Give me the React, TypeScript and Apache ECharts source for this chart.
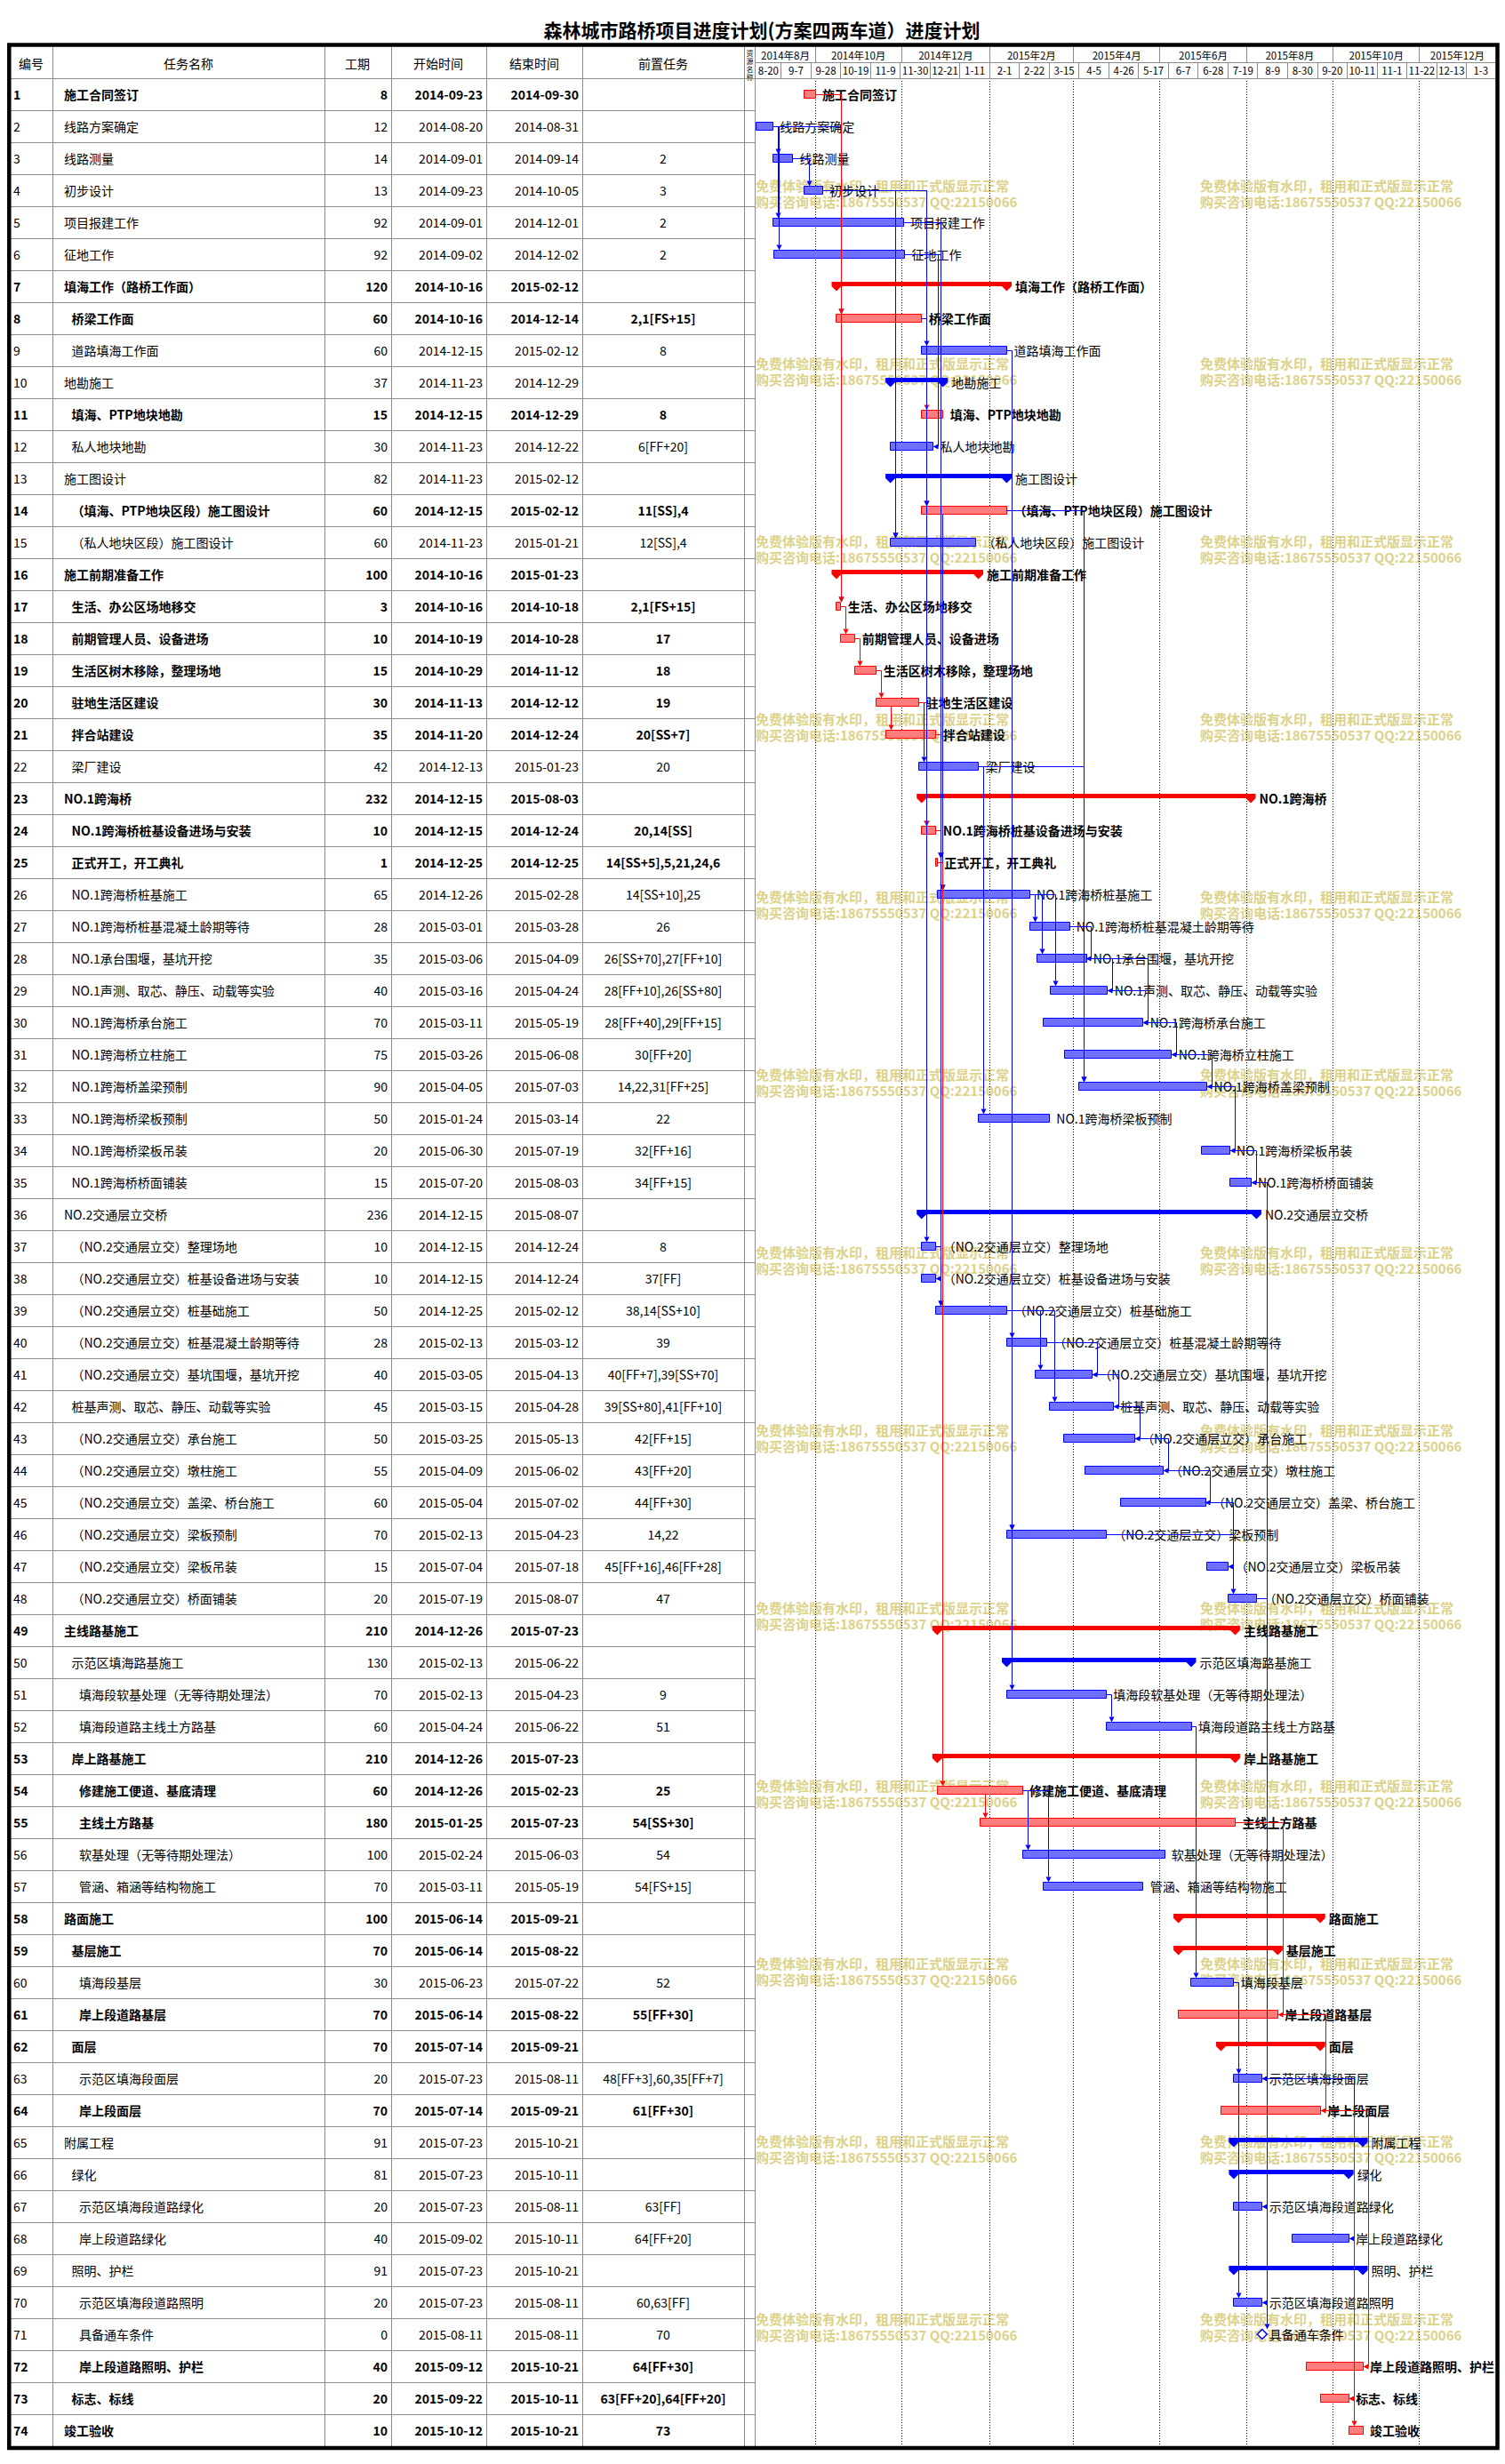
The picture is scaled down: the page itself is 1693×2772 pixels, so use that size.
import React, { useEffect, useRef } from "react";
import * as echarts from "echarts";

// ---------------- data ----------------
const TITLE = "森林城市路桥项目进度计划(方案四两车道）进度计划";
const COLUMN_HEADERS = ["编号", "任务名称", "工期", "开始时间", "结束时间", "前置任务"];
const RESOURCE_HEADER = "资\n源\n名\n称";
const WATERMARK_LINES = ["免费体验版有水印，租用和正式版显示正常", "购买咨询电话:18675550537 QQ:22150066"];

const taskNames = [
  "施工合同签订", "线路方案确定", "线路测量", "初步设计", "项目报建工作", "征地工作",
  "填海工作（路桥工作面）", "桥梁工作面", "道路填海工作面", "地勘施工", "填海、PTP地块地勘", "私人地块地勘",
  "施工图设计", "（填海、PTP地块区段）施工图设计", "（私人地块区段）施工图设计", "施工前期准备工作",
  "生活、办公区场地移交", "前期管理人员、设备进场", "生活区树木移除，整理场地", "驻地生活区建设", "拌合站建设", "梁厂建设",
  "NO.1跨海桥", "NO.1跨海桥桩基设备进场与安装", "正式开工，开工典礼", "NO.1跨海桥桩基施工", "NO.1跨海桥桩基混凝土龄期等待",
  "NO.1承台围堰，基坑开挖", "NO.1声测、取芯、静压、动载等实验", "NO.1跨海桥承台施工", "NO.1跨海桥立柱施工",
  "NO.1跨海桥盖梁预制", "NO.1跨海桥梁板预制", "NO.1跨海桥梁板吊装", "NO.1跨海桥桥面铺装", "NO.2交通层立交桥",
  "（NO.2交通层立交）整理场地", "（NO.2交通层立交）桩基设备进场与安装", "（NO.2交通层立交）桩基础施工",
  "（NO.2交通层立交）桩基混凝土龄期等待", "（NO.2交通层立交）基坑围堰，基坑开挖", "桩基声测、取芯、静压、动载等实验",
  "（NO.2交通层立交）承台施工", "（NO.2交通层立交）墩柱施工", "（NO.2交通层立交）盖梁、桥台施工",
  "（NO.2交通层立交）梁板预制", "（NO.2交通层立交）梁板吊装", "（NO.2交通层立交）桥面铺装",
  "主线路基施工", "示范区填海路基施工", "填海段软基处理（无等待期处理法）", "填海段道路主线土方路基", "岸上路基施工",
  "修建施工便道、基底清理", "主线土方路基", "软基处理（无等待期处理法）", "管涵、箱涵等结构物施工", "路面施工", "基层施工",
  "填海段基层", "岸上段道路基层", "面层", "示范区填海段面层", "岸上段面层", "附属工程", "绿化", "示范区填海段道路绿化",
  "岸上段道路绿化", "照明、护栏", "示范区填海段道路照明", "具备通车条件", "岸上段道路照明、护栏", "标志、标线", "竣工验收",
];

const taskLevels = [
  1, 1, 1, 1, 1, 1, 1, 2, 2, 1, 2, 2, 1, 2, 2, 1, 2, 2, 2, 2, 2, 2, 1, 2, 2, 2, 2, 2, 2, 2, 2, 2, 2, 2, 2, 1,
  2, 2, 2, 2, 2, 2, 2, 2, 2, 2, 2, 2, 1, 2, 3, 3, 2, 3, 3, 3, 3, 1, 2, 3, 3, 2, 3, 3, 1, 2, 3, 3, 2, 3, 3, 3, 2, 1,
];

// C = critical task, N = normal task, SR = critical summary, SB = summary, M = milestone
const taskKinds = [
  "C", "N", "N", "N", "N", "N", "SR", "C", "N", "SB", "C", "N", "SB", "C", "N", "SR", "C", "C", "C", "C", "C", "N",
  "SR", "C", "C", "N", "N", "N", "N", "N", "N", "N", "N", "N", "N", "SB", "N", "N", "N", "N", "N", "N", "N", "N",
  "N", "N", "N", "N", "SR", "SB", "N", "N", "SR", "C", "C", "N", "N", "SR", "SR", "N", "C", "SR", "N", "C", "SB",
  "SB", "N", "N", "SB", "N", "M", "C", "C", "C",
];

const durations = [
  8, 12, 14, 13, 92, 92, 120, 60, 60, 37, 15, 30, 82, 60, 60, 100, 3, 10, 15, 30, 35, 42, 232, 10, 1, 65, 28, 35,
  40, 70, 75, 90, 50, 20, 15, 236, 10, 10, 50, 28, 40, 45, 50, 55, 60, 70, 15, 20, 210, 130, 70, 60, 210, 60, 180,
  100, 70, 100, 70, 30, 70, 70, 20, 70, 91, 81, 20, 40, 91, 20, 0, 40, 20, 10,
];

const startDates = [
  "2014-09-23", "2014-08-20", "2014-09-01", "2014-09-23", "2014-09-01", "2014-09-02", "2014-10-16", "2014-10-16",
  "2014-12-15", "2014-11-23", "2014-12-15", "2014-11-23", "2014-11-23", "2014-12-15", "2014-11-23", "2014-10-16",
  "2014-10-16", "2014-10-19", "2014-10-29", "2014-11-13", "2014-11-20", "2014-12-13", "2014-12-15", "2014-12-15",
  "2014-12-25", "2014-12-26", "2015-03-01", "2015-03-06", "2015-03-16", "2015-03-11", "2015-03-26", "2015-04-05",
  "2015-01-24", "2015-06-30", "2015-07-20", "2014-12-15", "2014-12-15", "2014-12-15", "2014-12-25", "2015-02-13",
  "2015-03-05", "2015-03-15", "2015-03-25", "2015-04-09", "2015-05-04", "2015-02-13", "2015-07-04", "2015-07-19",
  "2014-12-26", "2015-02-13", "2015-02-13", "2015-04-24", "2014-12-26", "2014-12-26", "2015-01-25", "2015-02-24",
  "2015-03-11", "2015-06-14", "2015-06-14", "2015-06-23", "2015-06-14", "2015-07-14", "2015-07-23", "2015-07-14",
  "2015-07-23", "2015-07-23", "2015-07-23", "2015-09-02", "2015-07-23", "2015-07-23", "2015-08-11", "2015-09-12",
  "2015-09-22", "2015-10-12",
];

const endDates = [
  "2014-09-30", "2014-08-31", "2014-09-14", "2014-10-05", "2014-12-01", "2014-12-02", "2015-02-12", "2014-12-14",
  "2015-02-12", "2014-12-29", "2014-12-29", "2014-12-22", "2015-02-12", "2015-02-12", "2015-01-21", "2015-01-23",
  "2014-10-18", "2014-10-28", "2014-11-12", "2014-12-12", "2014-12-24", "2015-01-23", "2015-08-03", "2014-12-24",
  "2014-12-25", "2015-02-28", "2015-03-28", "2015-04-09", "2015-04-24", "2015-05-19", "2015-06-08", "2015-07-03",
  "2015-03-14", "2015-07-19", "2015-08-03", "2015-08-07", "2014-12-24", "2014-12-24", "2015-02-12", "2015-03-12",
  "2015-04-13", "2015-04-28", "2015-05-13", "2015-06-02", "2015-07-02", "2015-04-23", "2015-07-18", "2015-08-07",
  "2015-07-23", "2015-06-22", "2015-04-23", "2015-06-22", "2015-07-23", "2015-02-23", "2015-07-23", "2015-06-03",
  "2015-05-19", "2015-09-21", "2015-08-22", "2015-07-22", "2015-08-22", "2015-09-21", "2015-08-11", "2015-09-21",
  "2015-10-21", "2015-10-11", "2015-08-11", "2015-10-11", "2015-10-21", "2015-08-11", "2015-08-11", "2015-10-21",
  "2015-10-11", "2015-10-21",
];

const predecessors = [
  "", "", "2", "3", "2", "2", "", "2,1[FS+15]", "8", "", "8", "6[FF+20]", "", "11[SS],4", "12[SS],4", "",
  "2,1[FS+15]", "17", "18", "19", "20[SS+7]", "20", "", "20,14[SS]", "14[SS+5],5,21,24,6", "14[SS+10],25", "26",
  "26[SS+70],27[FF+10]", "28[FF+10],26[SS+80]", "28[FF+40],29[FF+15]", "30[FF+20]", "14,22,31[FF+25]", "22",
  "32[FF+16]", "34[FF+15]", "", "8", "37[FF]", "38,14[SS+10]", "39", "40[FF+7],39[SS+70]", "39[SS+80],41[FF+10]",
  "42[FF+15]", "43[FF+20]", "44[FF+30]", "14,22", "45[FF+16],46[FF+28]", "47", "", "", "9", "51", "", "25",
  "54[SS+30]", "54", "54[FS+15]", "", "", "52", "55[FF+30]", "", "48[FF+3],60,35[FF+7]", "61[FF+30]", "", "",
  "63[FF]", "64[FF+20]", "", "60,63[FF]", "70", "64[FF+30]", "63[FF+20],64[FF+20]", "73",
];

const monthGroupStarts = [
  "2014-08-01", "2014-10-01", "2014-12-01", "2015-02-01", "2015-04-01", "2015-06-01", "2015-08-01", "2015-10-01", "2015-12-01",
];
const tickDates = [
  "2014-08-20", "2014-09-07", "2014-09-28", "2014-10-19", "2014-11-09", "2014-11-30", "2014-12-21", "2015-01-11",
  "2015-02-01", "2015-02-22", "2015-03-15", "2015-04-05", "2015-04-26", "2015-05-17", "2015-06-07", "2015-06-28",
  "2015-07-19", "2015-08-09", "2015-08-30", "2015-09-20", "2015-10-11", "2015-11-01", "2015-11-22", "2015-12-13",
  "2016-01-03",
];

// ---------------- layout / style ----------------
const PAGE_W = 1693;
const PAGE_H = 2772;
const FONT = '"Noto Sans CJK SC", "Noto Sans", sans-serif';
const HEAD_TOP = 53;
const HEAD_MID = 70.5;
const ROW_TOP = 88;
const ROW_H = 36;
const N_ROWS = taskNames.length;
const ROWS_BOTTOM = ROW_TOP + ROW_H * N_ROWS;
const TABLE_L = 12;
const COL_LINES = [59.5, 365.5, 440.5, 547.5, 655.5, 837.5, 849.5];
const CHART_L = 850;
const CHART_R = 1682;
const PX_PER_DAY = 1.596;
const NUM_X = 15;
const NAME_X = 72;
const INDENT = 8.5;
const DUR_X = 436;
const START_X = 543;
const END_X = 651;
const PRED_X = 746;
const BAR_HALF = 4.5;
const LINK_OFF = 6;
const ARROW = 6;
const BLUE = "#0000FF";
const RED = "#FF0000";
const BLUE_FILL = "#7070FF";
const RED_FILL = "#FF7D7D";
const GRID_LINE = "#8C8C8C";
const WM_COLOR = "#DCD28A";

const toUTC = (s: string) => {
  const [y, m, d] = s.split("-").map(Number);
  return Date.UTC(y, m - 1, d);
};
const ORIGIN = Math.min(...startDates.map(toUTC));
const dayOf = (s: string) => (toUTC(s) - ORIGIN) / 86400000;
const DAY_MAX = (CHART_R - CHART_L) / PX_PER_DAY;
const isRed = (i: number) => taskKinds[i] === "C" || taskKinds[i] === "SR";
const crisp = (v: number) => Math.round(v - 0.5) + 0.5;

function txt(text: string, x: number, y: number, font: string, align: string, vAlign = "middle", fill = "#000") {
  return {
    type: "text",
    style: { text, x, y, font, fill, align, verticalAlign: vAlign, textAlign: align, textVerticalAlign: vAlign },
  };
}
function seg(x1: number, y1: number, x2: number, y2: number, stroke = GRID_LINE, lineWidth = 1, lineDash?: number[]) {
  return {
    type: "line",
    shape: { x1, y1, x2, y2 },
    style: { stroke, lineWidth, lineDash },
  };
}

function buildOption() {
  const rowCats = taskNames.map((_, i) => String(i + 1));
  const barData = taskNames.map((_, i) => [i, dayOf(startDates[i]), dayOf(endDates[i]) + 1]);

  const linkData: number[][] = [];
  predecessors.forEach((str, s) => {
    if (!str) return;
    str.split(",").forEach((tok) => {
      const m = tok.trim().match(/^(\d+)(?:\[(FS|SS|FF|SF)([+-]\d+)?\])?$/);
      if (!m) return;
      const p = Number(m[1]) - 1;
      const t = ["FS", "SS", "FF", "SF"].indexOf(m[2] || "FS");
      linkData.push([p, s, t, barData[p][1], barData[p][2], barData[s][1], barData[s][2]]);
    });
  });

  const monthData = monthGroupStarts.map((d, k) => {
    const a = Math.max(0, dayOf(d));
    const b = k + 1 < monthGroupStarts.length ? dayOf(monthGroupStarts[k + 1]) : DAY_MAX;
    return [a, Math.min(b, DAY_MAX), k];
  });
  const tickData = tickDates.map((d, k) => {
    const a = Math.max(0, dayOf(d));
    const b = k + 1 < tickDates.length ? dayOf(tickDates[k + 1]) : DAY_MAX;
    return [a, Math.min(b, DAY_MAX), k];
  });

  const tableSeries = {
    type: "custom",
    xAxisIndex: 0,
    yAxisIndex: 0,
    z: 3,
    data: taskNames.map((_, i) => [0, i]),
    renderItem: (params: any, api: any) => {
      const i = api.value(1);
      const yc = api.coord([0, i])[1];
      const font = `${isRed(i) ? "bold " : ""}14px ${FONT}`;
      const yb = crisp(yc + ROW_H / 2);
      const children: any[] = [
        txt(String(i + 1), NUM_X, yc, font, "left"),
        txt(taskNames[i], NAME_X + (taskLevels[i] - 1) * INDENT, yc, font, "left"),
        txt(String(durations[i]), DUR_X, yc, font, "right"),
        txt(startDates[i], START_X, yc, font, "right"),
        txt(endDates[i], END_X, yc, font, "right"),
        txt(predecessors[i], PRED_X, yc, font, "center"),
      ];
      if (i < N_ROWS - 1) children.push(seg(TABLE_L, yb, CHART_L, yb));
      COL_LINES.forEach((x) => children.push(seg(x, yc - ROW_H / 2, x, yc + ROW_H / 2)));
      return { type: "group", children };
    },
  };

  const monthSeries = {
    type: "custom",
    xAxisIndex: 1,
    yAxisIndex: 1,
    z: 1,
    data: monthData,
    renderItem: (params: any, api: any) => {
      const k = api.value(2);
      const x0 = api.coord([api.value(0), 0])[0];
      const x1 = api.coord([api.value(1), 0])[0];
      const [y, m] = monthGroupStarts[k].split("-").map(Number);
      const children: any[] = [txt(`${y}年${m}月`, (x0 + x1) / 2, (HEAD_TOP + HEAD_MID) / 2, `11.5px ${FONT}`, "center")];
      if (k > 0) {
        children.push(seg(crisp(x0), HEAD_TOP, crisp(x0), HEAD_MID));
        children.push(seg(crisp(x0), ROW_TOP, crisp(x0), ROWS_BOTTOM, "#000", 1, [1, 2]));
      }
      return { type: "group", children };
    },
  };

  const tickSeries = {
    type: "custom",
    xAxisIndex: 1,
    yAxisIndex: 1,
    z: 1,
    data: tickData,
    renderItem: (params: any, api: any) => {
      const k = api.value(2);
      const x0 = api.coord([api.value(0), 0])[0];
      const x1 = api.coord([api.value(1), 0])[0];
      const [, m, d] = tickDates[k].split("-").map(Number);
      const children: any[] = [txt(`${m}-${d}`, (x0 + x1) / 2, (HEAD_MID + ROW_TOP) / 2, `11.5px ${FONT}`, "center")];
      if (k > 0) children.push(seg(crisp(x0), HEAD_MID, crisp(x0), ROW_TOP));
      return { type: "group", children };
    },
  };

  const barSeries = {
    type: "custom",
    xAxisIndex: 1,
    yAxisIndex: 1,
    z: 4,
    data: barData,
    renderItem: (params: any, api: any) => {
      const i = api.value(0);
      const [xs, yc] = api.coord([api.value(1), i]);
      const xe = api.coord([api.value(2), i])[0];
      const k = taskKinds[i];
      const red = isRed(i);
      const col = red ? RED : BLUE;
      const children: any[] = [];
      let labelX = xe + 8;
      if (k === "SR" || k === "SB") {
        const h = 5.5;
        children.push({
          type: "polygon",
          shape: {
            points: [
              [xs - h, yc - 5], [xe + h, yc - 5], [xe + h, yc], [xe, yc + h], [xe - h, yc],
              [xs + h, yc], [xs, yc + h], [xs - h, yc],
            ],
          },
          style: { fill: col },
        });
        labelX = xe + h + 4;
      } else if (k === "M") {
        const h = 5.5;
        children.push({
          type: "polygon",
          shape: { points: [[xe, yc - h], [xe + h, yc], [xe, yc + h], [xe - h, yc]] },
          style: { fill: "#fff", stroke: BLUE, lineWidth: 1.5 },
        });
        labelX = xe + 8;
      } else {
        const x0 = crisp(xs);
        children.push({
          type: "rect",
          shape: { x: x0, y: crisp(yc - BAR_HALF), width: Math.max(Math.round(xe - xs), 2), height: BAR_HALF * 2 },
          style: { fill: red ? RED_FILL : BLUE_FILL, stroke: col, lineWidth: 1 },
        });
      }
      children.push(txt(taskNames[i], labelX, yc, `${red ? "bold " : ""}14px ${FONT}`, "left"));
      return { type: "group", children };
    },
  };

  const linkSeries = {
    type: "custom",
    xAxisIndex: 1,
    yAxisIndex: 1,
    z: 5,
    data: linkData,
    renderItem: (params: any, api: any) => {
      const p = api.value(0);
      const s = api.value(1);
      const t = api.value(2);
      const [pxs, yP0] = api.coord([api.value(3), p]);
      const pxe = crisp(api.coord([api.value(4), p])[0]);
      let sxs = api.coord([api.value(5), s])[0];
      const [sxe0, yS0] = api.coord([api.value(6), s]);
      const sxe = crisp(sxe0);
      const yP = crisp(yP0);
      const yS = crisp(yS0);
      const color = isRed(p) && isRed(s) ? RED : BLUE;
      const milestone = taskKinds[s] === "M";
      if (milestone) sxs = sxe0;
      let pts: number[][];
      let arrow: number[][];
      if (t === 2) {
        const X = crisp(Math.max(pxe, sxe) + LINK_OFF);
        pts = [[pxe, yP], [X, yP], [X, yS], [sxe + ARROW, yS]];
        arrow = [[sxe, yS], [sxe + ARROW, yS - ARROW / 2], [sxe + ARROW, yS + ARROW / 2]];
      } else {
        const X = crisp(sxs + LINK_OFF);
        const tipY = yS0 - (milestone ? 5.5 : BAR_HALF);
        const inside = X <= pxe && X >= pxs;
        pts = inside ? [[X, yP0 + BAR_HALF], [X, tipY - ARROW]] : [[pxe, yP], [X, yP], [X, tipY - ARROW]];
        arrow = [[X, tipY], [X - ARROW / 2, tipY - ARROW], [X + ARROW / 2, tipY - ARROW]];
      }
      return {
        type: "group",
        children: [
          { type: "polyline", shape: { points: pts }, style: { stroke: color, lineWidth: 1, fill: null } },
          { type: "polygon", shape: { points: arrow }, style: { fill: color } },
        ],
      };
    },
  };

  const graphic: any[] = [];
  graphic.push({
    type: "text",
    z: 10,
    style: { text: TITLE, x: 857, y: 33, font: `bold 21px ${FONT}`, fill: "#000", align: "center", verticalAlign: "middle", textAlign: "center", textVerticalAlign: "middle" },
  });
  const headCenters = [35, 212, 402, 493, 601, 746];
  COLUMN_HEADERS.forEach((h, k) => {
    graphic.push({
      type: "text",
      z: 10,
      style: { text: h, x: headCenters[k], y: (HEAD_TOP + ROW_TOP) / 2, font: `14px ${FONT}`, fill: "#000", align: "center", verticalAlign: "middle", textAlign: "center", textVerticalAlign: "middle" },
    });
  });
  graphic.push({
    type: "text",
    z: 10,
    style: { text: RESOURCE_HEADER, x: 843.5, y: 55, font: `8px ${FONT}`, lineHeight: 9, fill: "#000", align: "center", verticalAlign: "top", textAlign: "center", textVerticalAlign: "top" },
  });
  COL_LINES.forEach((x) => graphic.push({ type: "line", z: 10, shape: { x1: x, y1: HEAD_TOP, x2: x, y2: ROW_TOP }, style: { stroke: GRID_LINE, lineWidth: 1 } }));
  graphic.push({ type: "line", z: 10, shape: { x1: TABLE_L, y1: ROW_TOP + 0.5, x2: CHART_R, y2: ROW_TOP + 0.5 }, style: { stroke: GRID_LINE, lineWidth: 1 } });
  graphic.push({ type: "line", z: 10, shape: { x1: CHART_L, y1: HEAD_MID, x2: CHART_R, y2: HEAD_MID }, style: { stroke: GRID_LINE, lineWidth: 1 } });
  // watermark
  for (let r = 0; r < 13; r++) {
    [850, 1350].forEach((x) => {
      WATERMARK_LINES.forEach((line, li) => {
        graphic.push({
          type: "text",
          z: 0,
          style: { text: line, x, y: 208 + r * 200 + li * 18, font: `bold 15px ${FONT}`, fill: WM_COLOR, align: "left", verticalAlign: "middle", textAlign: "left", textVerticalAlign: "middle" },
        });
      });
    });
  }
  // outer frame
  graphic.push({
    type: "rect",
    z: 20,
    shape: { x: 10.3, y: 50.5, width: 1674.2, height: ROWS_BOTTOM + 2 - 50.5 },
    style: { fill: null, stroke: "#000", lineWidth: 4.5 },
  });

  return {
    animation: false,
    backgroundColor: "#fff",
    grid: [
      { left: 10, top: ROW_TOP, width: CHART_L - 10, height: ROW_H * N_ROWS },
      { left: CHART_L, top: ROW_TOP, width: CHART_R - CHART_L, height: ROW_H * N_ROWS },
    ],
    xAxis: [
      { type: "value", gridIndex: 0, min: 0, max: CHART_L - 10, show: false },
      { type: "value", gridIndex: 1, min: 0, max: DAY_MAX, show: false },
    ],
    yAxis: [
      { type: "category", gridIndex: 0, data: rowCats, inverse: true, show: false },
      { type: "category", gridIndex: 1, data: rowCats, inverse: true, show: false },
    ],
    graphic,
    series: [tableSeries, monthSeries, tickSeries, barSeries, linkSeries],
  };
}

export default function App() {
  const ref = useRef<HTMLDivElement>(null);
  useEffect(() => {
    document.body.style.margin = "0";
    const chart = echarts.init(ref.current as HTMLDivElement, null, { renderer: "svg" });
    chart.setOption(buildOption() as any);
    return () => chart.dispose();
  }, []);
  return <div ref={ref} style={{ width: PAGE_W, height: PAGE_H }} />;
}
